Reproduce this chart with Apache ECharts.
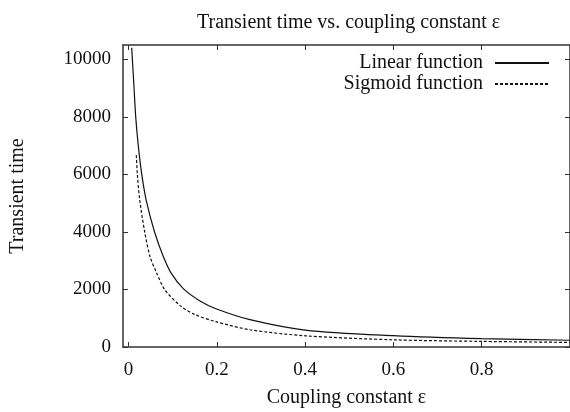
<!DOCTYPE html>
<html>
<head>
<meta charset="utf-8">
<script src="https://cdn.jsdelivr.net/npm/echarts@6/dist/echarts.min.js"></script>
<style>
  html, body { margin: 0; padding: 0; background: #fff; }
  #chart { width: 570px; height: 412px; }
</style>
</head>
<body>
<div id="chart"></div>
<script>
// values
var linearEps = [0.0072, 0.012, 0.0163, 0.022, 0.030, 0.040, 0.059, 0.079, 0.097, 0.124, 0.162, 0.198, 0.275, 0.4, 0.6, 0.8, 1.0];
var linearT   = [10400, 9150, 8000, 7020, 6000, 5110, 4000, 3140, 2560, 2030, 1600, 1330, 950, 590, 395, 290, 235];
var sigmoidEps = [0.0177, 0.020, 0.0254, 0.0367, 0.0487, 0.063, 0.0827, 0.12, 0.15, 0.198, 0.275, 0.4, 0.6, 0.8, 1.0];
var sigmoidT   = [6670, 6000, 5110, 4000, 3140, 2600, 1980, 1400, 1130, 880, 600, 390, 250, 195, 160];
var xTickValues = [0, 0.2, 0.4, 0.6, 0.8, 1.0];
var xLabelValues = [0, 0.2, 0.4, 0.6, 0.8];
var yTickValues = [0, 2000, 4000, 6000, 8000, 10000];

var font = 'Liberation Serif';

function pairs(xs, ys) {
  return xs.map(function (x, i) { return [x, ys[i]]; });
}

var chart = echarts.init(document.getElementById('chart'), null, { renderer: 'canvas' });

var frameLine = { show: true, onZero: false, lineStyle: { color: '#333', width: 1.5 } };
var tick = function (vals) {
  return { show: true, inside: true, length: 5, customValues: vals, lineStyle: { color: '#333' } };
};

var option = {
  animation: false,
  backgroundColor: '#fff',
  title: {
    text: 'Transient time vs. coupling constant ε',
    left: 192,
    top: 8,
    textStyle: { fontFamily: font, fontSize: 20, fontWeight: 'normal', color: '#111' }
  },
  legend: {
    orient: 'vertical',
    right: 15,
    top: 48,
    align: 'right',
    itemWidth: 54,
    itemHeight: 10,
    itemGap: 1,
    itemStyle: { opacity: 0 },
    textStyle: { fontFamily: font, fontSize: 20, color: '#111', padding: [0, 7, 0, 0] },
    data: ['Linear function', 'Sigmoid function']
  },
  grid: { left: 123, right: 0, top: 45, bottom: 65, outerBoundsMode: 'none' },
  xAxis: [{
    type: 'value',
    min: -0.0125,
    max: 1.0,
    name: 'Coupling constant ε',
    nameLocation: 'middle',
    nameGap: 41,
    nameTextStyle: { fontFamily: font, fontSize: 20, color: '#111' },
    axisLine: frameLine,
    axisTick: tick(xTickValues),
    axisLabel: { customValues: xLabelValues, margin: 14, fontFamily: font, fontSize: 19, color: '#111' },
    splitLine: { show: false }
  }, {
    type: 'value',
    position: 'top',
    min: -0.0125,
    max: 1.0,
    axisLine: frameLine,
    axisTick: tick(xTickValues),
    axisLabel: { show: false },
    splitLine: { show: false }
  }],
  yAxis: [{
    type: 'value',
    min: 0,
    max: 10500,
    name: 'Transient time',
    nameLocation: 'middle',
    nameGap: 95,
    nameTextStyle: { fontFamily: font, fontSize: 20, color: '#111' },
    axisLine: frameLine,
    axisTick: tick(yTickValues),
    axisLabel: {
      customValues: yTickValues, margin: 12, fontFamily: font, fontSize: 19, color: '#111',
      formatter: function (v) { return String(v); }
    },
    splitLine: { show: false }
  }, {
    type: 'value',
    position: 'right',
    min: 0,
    max: 10500,
    axisLine: frameLine,
    axisTick: tick(yTickValues),
    axisLabel: { show: false },
    splitLine: { show: false }
  }],
  series: [{
    name: 'Linear function',
    type: 'line',
    data: pairs(linearEps, linearT),
    smooth: 0.3,
    symbol: 'none',
    lineStyle: { color: '#111', width: 1.2 },
    itemStyle: { color: '#111' }
  }, {
    name: 'Sigmoid function',
    type: 'line',
    data: pairs(sigmoidEps, sigmoidT),
    smooth: 0.3,
    symbol: 'none',
    lineStyle: { color: '#111', width: 1.2, type: [3, 2] },
    itemStyle: { color: '#111' }
  }, {
    // empty series so the mirrored top/right axes are drawn
    type: 'line',
    xAxisIndex: 1,
    yAxisIndex: 1,
    data: [],
    silent: true
  }]
};

chart.setOption(option);
</script>
</body>
</html>
